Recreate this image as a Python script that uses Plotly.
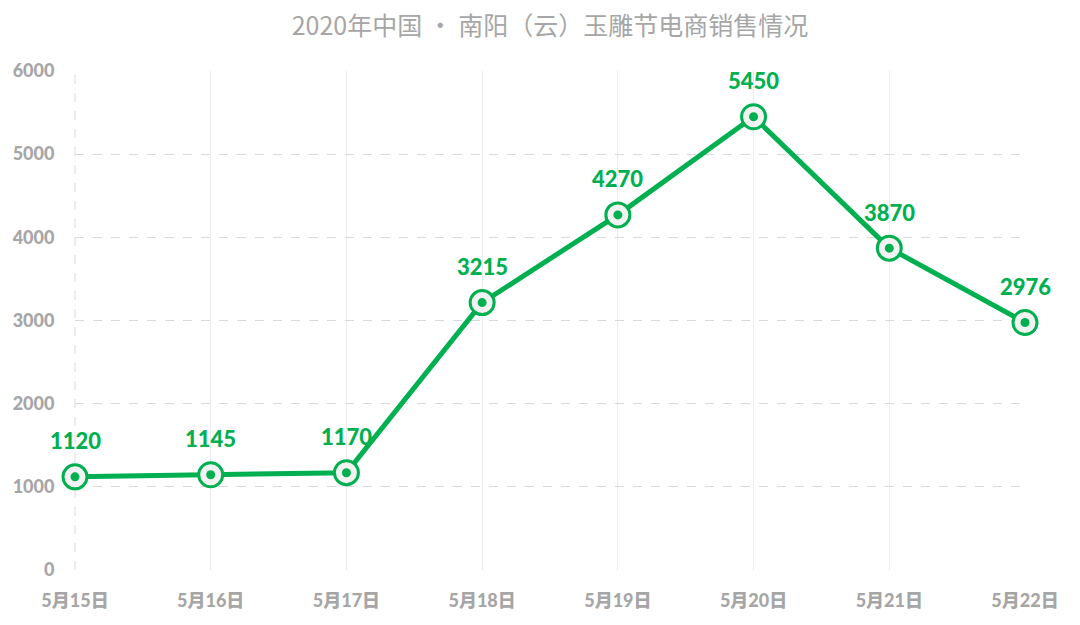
import plotly.graph_objects as go

# data
days = ["5月15日", "5月16日", "5月17日", "5月18日", "5月19日", "5月20日", "5月21日", "5月22日"]
sales = [1120, 1145, 1170, 3215, 4270, 5450, 3870, 2976]
y_ticks = [0, 1000, 2000, 3000, 4000, 5000, 6000]

green = "#00b050"
grey_text = "#a6a6a6"

fig = go.Figure()

# main line with ringed markers
fig.add_trace(go.Scatter(
    x=days, y=sales, mode="lines+markers",
    line=dict(color=green, width=5),
    marker=dict(size=24, color="#f2f2f2", line=dict(color=green, width=3)),
    cliponaxis=False, hoverinfo="skip",
))
# the dot inside each ring
fig.add_trace(go.Scatter(
    x=days, y=sales, mode="markers",
    marker=dict(size=9, color=green),
    cliponaxis=False,
))

# value labels above each point
for d, v in zip(days, sales):
    fig.add_annotation(x=d, y=v, text=str(v), showarrow=False, yshift=36,
                       font=dict(family="Lato", size=22, color=green, weight=900))

# page body has an 8px margin, so the figure is a bit smaller than the window
fig.update_layout(
    width=1064, height=609,
    paper_bgcolor="white", plot_bgcolor="white",
    showlegend=False,
    margin=dict(l=67, r=47, t=63, b=47),
    title=dict(text="2020年中国 · 南阳（云）玉雕节电商销售情况",
               x=0.5, xref="paper", y=1 - 18 / 609, yref="container", yanchor="middle",
               font=dict(family="Noto Sans CJK SC", size=25, color=grey_text)),
    font=dict(family="Lato, Noto Sans CJK SC"),
)

fig.update_xaxes(
    type="category", range=[0, len(days) - 1], automargin=False,
    showgrid=True, gridcolor="#ececec", gridwidth=1,
    zeroline=False, showline=False,
    ticks="outside", ticklen=0, ticklabelstandoff=14,
    tickfont=dict(size=18, color=grey_text, weight=900),
)
fig.update_yaxes(
    range=[0, 6000], tickvals=y_ticks, automargin=False,
    showgrid=True, gridcolor="#d9d9d9", griddash="dash", gridwidth=1,
    zeroline=False, showline=False,
    ticks="outside", ticklen=0, ticklabelstandoff=16,
    tickfont=dict(size=18, color=grey_text, weight=900),
)

# dashed left border of the plot area
fig.add_shape(type="line", xref="paper", yref="paper", x0=0, x1=0, y0=0, y1=1,
              line=dict(color="#d9d9d9", width=1, dash="dash"), layer="below")

fig.write_html("out.html")
